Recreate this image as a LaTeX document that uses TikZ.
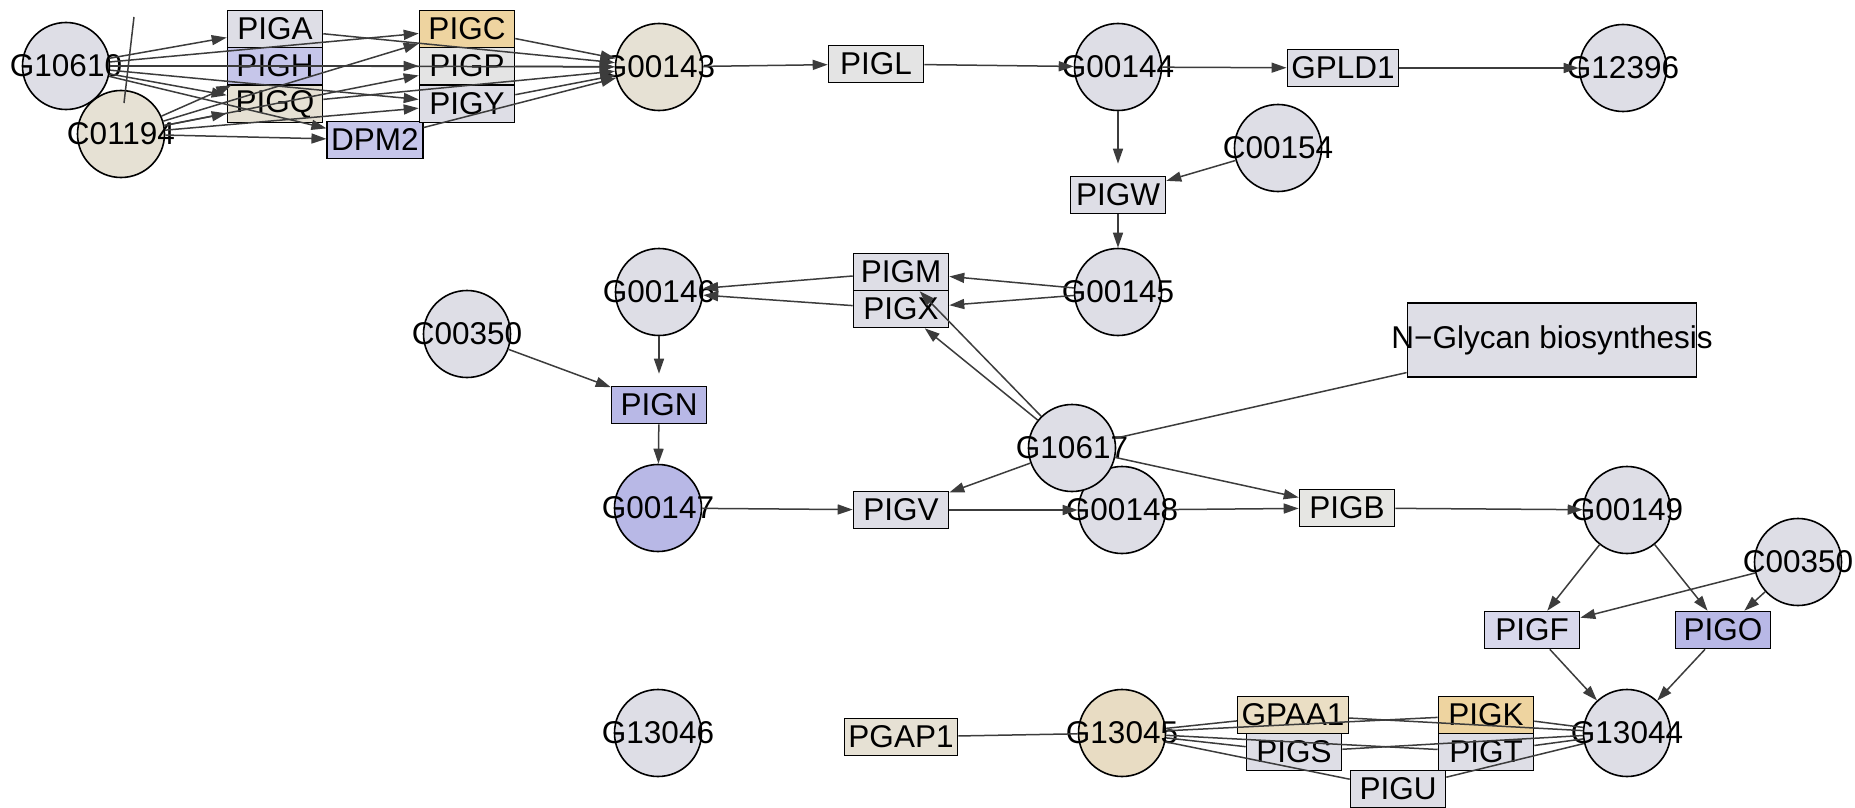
\documentclass[tikz,border=0pt]{standalone}
\usepackage{fontspec}
\setmainfont{Liberation Sans}
\usetikzlibrary{arrows.meta}
\definecolor{cgray}{HTML}{DEDEE6}
\definecolor{cbeige}{HTML}{E6E1D4}
\definecolor{ctan}{HTML}{E8DCC3}
\definecolor{cblue}{HTML}{B8B8E6}
\definecolor{clav}{HTML}{C6C6EA}
\definecolor{corange}{HTML}{EED4A0}
\definecolor{clight}{HTML}{E4E4E4}
\definecolor{cpale}{HTML}{E6E6E3}
\definecolor{cgpaa}{HTML}{EADEC4}
\definecolor{cpigf}{HTML}{D8D8EC}
\definecolor{edgec}{HTML}{3C3C3C}
\begin{document}
\begin{tikzpicture}[x=1pt,y=-1pt,font=\fontsize{31.5}{33}\selectfont,
  circ/.style={circle,draw=black,line width=1.6pt,minimum size=87pt,inner sep=0pt,fill=#1},
  circ/.default=cgray,
  box/.style={rectangle,draw=black,line width=1.6pt,minimum width=95pt,minimum height=37pt,inner xsep=4pt,inner ysep=0pt,fill=#1},
  box/.default=cgray,
  edge/.style={draw=edgec,line width=1.5pt,-{Triangle[length=15pt,width=10pt]}},
  link/.style={draw=edgec,line width=1.5pt}]
\fill[white] (0,0) rectangle (1855,808);
\useasboundingbox (0,0) rectangle (1855,808);

% circles
\node[circ] (G10610) at (66,66) [label=center:G10610] {};
\node[circ=cbeige] (C01194) at (121,134) [label=center:C01194] {};
\node[circ=cbeige] (G00143) at (659,67) [label=center:G00143] {};
\node[circ] (G00144) at (1118,67) [label=center:G00144] {};
\node[circ] (G12396) at (1623,68) [label=center:G12396] {};
\node[circ] (C00154) at (1278,148) [label=center:C00154] {};
\node[circ] (G00145) at (1118,292) [label=center:G00145] {};
\node[circ] (G00146) at (659,292) [label=center:G00146] {};
\node[circ] (C00350a) at (467,334) [label=center:C00350] {};
\node[circ=cblue] (G00147) at (658,508) [label=center:G00147] {};
\node[circ] (G00148) at (1122,510) [label=center:G00148] {};
\node[circ] (G10617) at (1072,448) [label=center:G10617] {};
\node[circ] (G00149) at (1627,510) [label=center:G00149] {};
\node[circ] (C00350b) at (1798,562) [label=center:C00350] {};
\node[circ] (G13044) at (1627,733) [label=center:G13044] {};
\node[circ=ctan] (G13045) at (1122,733) [label=center:G13045] {};
\node[circ] (G13046) at (658,733) [label=center:G13046] {};

% boxes
\node[box] (PIGA) at (275,29) {PIGA};
\node[box=clav] (PIGH) at (275,66) {PIGH};
\node[box=cbeige] (PIGQ) at (275,104) {PIGQ};
\node[box=clav] (DPM2) at (375,140) {DPM2};
\node[box=corange] (PIGC) at (467,29) {PIGC};
\node[box=clight] (PIGP) at (467,66) {PIGP};
\node[box] (PIGY) at (467,104) {PIGY};
\node[box=clight] (PIGL) at (876,64) {PIGL};
\node[box] (GPLD1) at (1343,68) {GPLD1};
\node[box] (PIGW) at (1118,195) {PIGW};
\node[box] (PIGM) at (901,272) {PIGM};
\node[box] (PIGX) at (901,309) {PIGX};
\node[box=cblue] (PIGN) at (659,405) {PIGN};
\node[box] (PIGV) at (901,510) {PIGV};
\node[box,inner xsep=-16pt,minimum height=74pt] (NGly) at (1552,340) {N−Glycan biosynthesis};
\node[box=cpale] (PIGB) at (1347,508) {PIGB};
\node[box=cpigf] (PIGF) at (1532,630) {PIGF};
\node[box=cblue] (PIGO) at (1723,630) {PIGO};
\node[box=cbeige] (PGAP1) at (901,737) {PGAP1};
\node[box=cgpaa] (GPAA1) at (1293,715) {GPAA1};
\node[box] (PIGS) at (1294,752) {PIGS};
\node[box=corange] (PIGK) at (1486,715) {PIGK};
\node[box] (PIGT) at (1486,752) {PIGT};
\node[box] (PIGU) at (1398,789) {PIGU};

% top-left cluster
\foreach \t in {PIGA,PIGQ,DPM2,PIGC,PIGP,PIGY} \draw[edge] (G10610) -- (\t);
\foreach \t in {PIGH,PIGQ,DPM2,PIGC,PIGP,PIGY} \draw[edge] (C01194) -- (\t);
\foreach \t in {PIGA,PIGH,PIGQ,DPM2,PIGC,PIGP,PIGY} \draw[edge] (\t) -- (G00143);
\coordinate (stubA) at (124,103);
\coordinate (stubB) at (134,17);
\draw[link] (stubA) -- (stubB);

% main chain
\draw[edge] (G00143) -- (PIGL);
\draw[edge] (PIGL) -- (G00144);
\draw[edge] (G00144) -- (GPLD1);
\draw[edge] (GPLD1) -- (G12396);
\draw[edge,shorten >=12pt] (G00144) -- (PIGW);
\draw[edge] (C00154) -- (PIGW);
\draw[edge] (PIGW) -- (G00145);
\draw[edge] (G00145) -- (PIGM);
\draw[edge] (G00145) -- (PIGX);
\draw[edge] (PIGM) -- (G00146);
\draw[edge] (PIGX) -- (G00146);
\draw[edge] (G10617) -- (PIGM);
\draw[edge] (G10617) -- (PIGX);
\draw[edge,shorten >=12pt] (G00146) -- (PIGN);
\draw[edge] (C00350a) -- (PIGN);
\draw[edge] (PIGN) -- (G00147);
\draw[edge] (G00147) -- (PIGV);
\draw[edge] (G10617) -- (PIGV);
\draw[edge] (PIGV) -- (G00148);
\draw[link] (G10617) -- (NGly);
\draw[edge] (G10617) -- (PIGB);
\draw[edge] (G00148) -- (PIGB);
\draw[edge] (PIGB) -- (G00149);
\draw[edge] (G00149) -- (PIGF);
\draw[edge] (G00149) -- (PIGO);
\draw[edge] (C00350b) -- (PIGF);
\draw[edge] (C00350b) -- (PIGO);
\draw[edge] (PIGF) -- (G13044);
\draw[edge] (PIGO) -- (G13044);

% bottom cluster
\draw[link] (PGAP1) -- (G13045);
\foreach \t in {GPAA1,PIGS,PIGK,PIGT,PIGU} {
  \draw[link] (G13045) -- (\t);
  \draw[link] (\t) -- (G13044);
}
\end{tikzpicture}
\end{document}
